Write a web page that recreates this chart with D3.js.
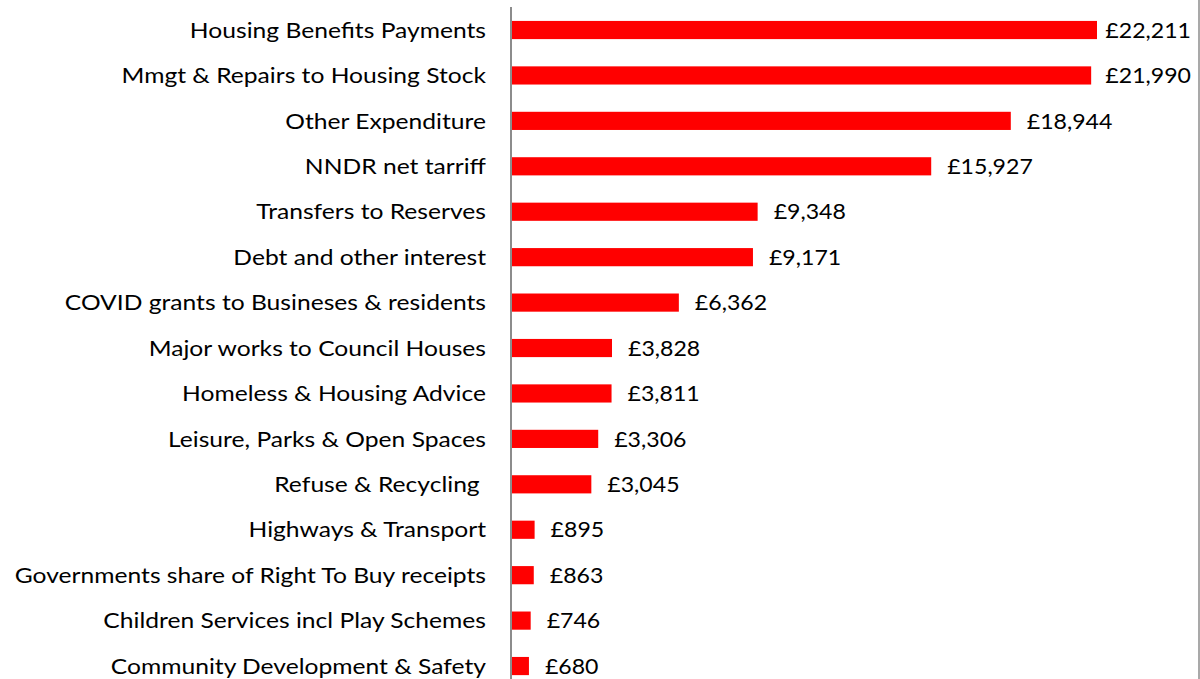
<!DOCTYPE html>
<html>
<head>
<meta charset="utf-8">
<script src="https://cdn.jsdelivr.net/npm/d3@7"></script>
<style>
  body { margin: 0; background: #fff; }
  svg { display: block; font-family: Lato, "Open Sans", sans-serif; }
</style>
</head>
<body>
<svg id="chart" width="1200" height="679"></svg>
<script>
const categories = [
    'Housing Benefits Payments',
    'Mmgt & Repairs to Housing Stock',
    'Other Expenditure',
    'NNDR net tarriff',
    'Transfers to Reserves',
    'Debt and other interest',
    'COVID grants to Busineses & residents',
    'Major works to Council Houses',
    'Homeless & Housing Advice',
    'Leisure, Parks & Open Spaces',
    'Refuse & Recycling ',
    'Highways & Transport',
    'Governments share of Right To Buy receipts',
    'Children Services incl Play Schemes',
    'Community Development & Safety'
];
const values = [22211, 21990, 18944, 15927, 9348, 9171, 6362, 3828, 3811, 3306, 3045, 895, 863, 746, 680];

const size = { w: 1200, h: 679 };
const svg = d3.select('#chart');

let x = d3.scaleLinear()
    .domain([0, 22211])
    .range([511, 1097]);

let y = d3.scaleBand()
    .domain(categories)
    .range([7.3, 7.3 + 15 * 45.43])
    .paddingInner(0.6)
    .paddingOuter(0.3);

let fmt = d => '£' + d3.format(',')(d);

// axis line + right border
svg.append('line')
    .attr('x1', 511).attr('x2', 511)
    .attr('y1', 7).attr('y2', size.h)
    .attr('stroke', '#8c8c8c')
    .attr('stroke-width', 2);

svg.append('line')
    .attr('x1', 1199).attr('x2', 1199)
    .attr('y1', 0).attr('y2', size.h)
    .attr('stroke', '#8c8c8c')
    .attr('stroke-width', 1.5);

let data = categories.map((c, i) => ({ name: c, value: values[i] }));

svg.selectAll('rect.bar')
    .data(data)
    .join('rect')
    .classed('bar', true)
    .attr('x', x(0) + 1)
    .attr('y', d => y(d.name))
    .attr('width', d => x(d.value) - x(0) - 1)
    .attr('height', y.bandwidth())
    .attr('fill', '#ff0000');

// category labels (slightly stretched to mimic the wide original font)
svg.selectAll('text.cat')
    .data(data)
    .join('text')
    .classed('cat', true)
    .attr('transform', d => `translate(486, ${y(d.name) + y.bandwidth() / 2}) scale(1.12, 1)`)
    .attr('dy', '0.35em')
    .attr('text-anchor', 'end')
    .attr('font-size', 22)
    .attr('fill', '#000')
    .style('white-space', 'pre')
    .text(d => d.name);

// value labels, kept inside the plot area
let sx = 1.05;
let vals = svg.selectAll('text.val')
    .data(data)
    .join('text')
    .classed('val', true)
    .attr('dy', '0.35em')
    .attr('font-size', 22)
    .attr('fill', '#000')
    .text(d => fmt(d.value));

vals.attr('transform', function(d) {
    let w = this.getComputedTextLength() * sx;
    let tx = Math.min(x(d.value) + 16, 1191 - w);
    return `translate(${tx}, ${y(d.name) + y.bandwidth() / 2}) scale(${sx}, 1)`;
});
</script>
</body>
</html>
